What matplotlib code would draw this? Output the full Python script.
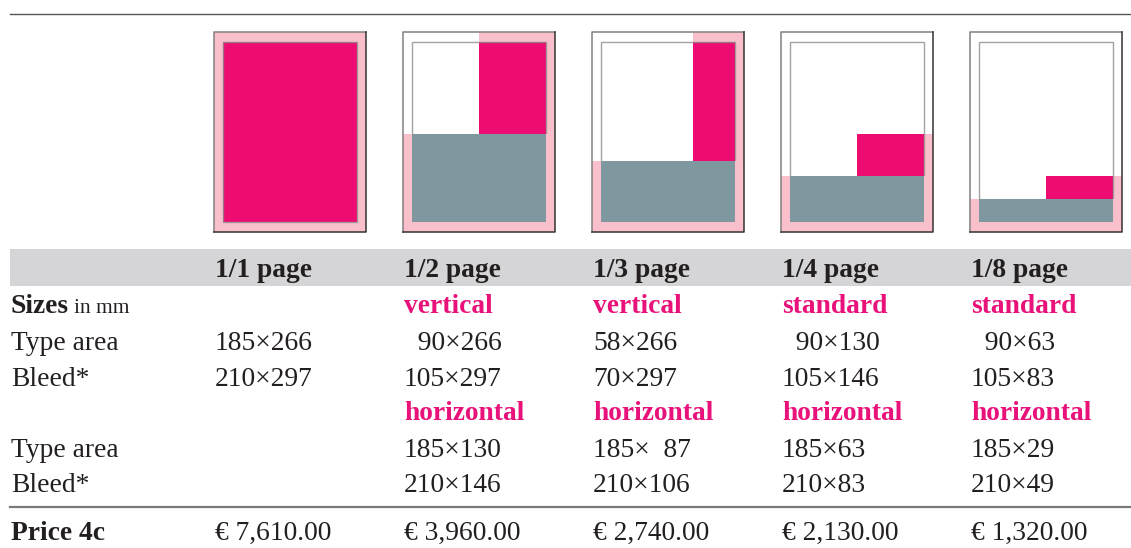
import matplotlib
matplotlib.use('Agg')
import matplotlib.pyplot as plt
import matplotlib.patches as patches

plt.rcParams['font.family'] = ['Liberation Serif', 'DejaVu Serif']

# Ad formats (mm), page is A4
PAGE = (210, 297)
FORMATS = ['1/1 page', '1/2 page', '1/3 page', '1/4 page', '1/8 page']
FIRST_LABEL = [None, 'vertical', 'vertical', 'standard', 'standard']
FIRST_TYPE = [(185, 266), (90, 266), (58, 266), (90, 130), (90, 63)]
FIRST_BLEED = [(210, 297), (105, 297), (70, 297), (105, 146), (105, 83)]
SECOND_LABEL = [None, 'horizontal', 'horizontal', 'horizontal', 'horizontal']
SECOND_TYPE = [None, (185, 130), (185, 87), (185, 63), (185, 29)]
SECOND_BLEED = [None, (210, 146), (210, 106), (210, 83), (210, 49)]
PRICES = [7610, 3960, 2740, 2130, 1320]

# Colors
MAGENTA = '#EC0C72'
MAGENTA_TEXT = '#E8127A'
PINK = '#F9C0CB'
SLATE = '#7F979E'
BAND = '#D5D5D7'
TEXT = '#231F20'

W, H = 1131, 548
COL_X = [215 + i * 189 for i in range(5)]
FS = 19.8


def fmt_pair(a, b):
    """Format 'w×h' of two rows with figure-space padding so digits line up."""
    out = []
    n_w = max(len(str(a[0])), len(str(b[0])))
    n_h = max(len(str(a[1])), len(str(b[1])))
    for w, h in (a, b):
        sw = '\u2007' * (n_w - len(str(w))) + str(w)
        sh = '\u2007' * (n_h - len(str(h))) + str(h)
        out.append(sw + '\u00d7' + sh)
    return out


def clip_rect(bleed, frame):
    """Bleed rectangle anchored bottom-right, clipped to the type frame."""
    x0, y0 = PAGE[0] - bleed[0], 0
    x1, y1 = PAGE[0], bleed[1]
    fx0, fy0, fx1, fy1 = frame
    return max(x0, fx0), max(y0, fy0), min(x1, fx1), min(y1, fy1)


def draw_page(fig, i):
    left, top, pw, ph = COL_X[i] - 1, 32, 152, 200
    tax = fig.add_axes([left / W, 1 - (top + ph) / H, pw / W, ph / H])
    tax.set_xlim(0, PAGE[0])
    tax.set_ylim(0, PAGE[1])
    tax.axis('off')

    mx = (PAGE[0] - FIRST_TYPE[0][0]) / 2
    my = (PAGE[1] - FIRST_TYPE[0][1]) / 2
    frame = (mx, my, PAGE[0] - mx, PAGE[1] - my)

    # first ad (full / vertical / standard)
    bw, bh = FIRST_BLEED[i]
    tax.add_patch(patches.Rectangle((PAGE[0] - bw, 0), bw, bh, facecolor=PINK, edgecolor='none'))
    x0, y0, x1, y1 = clip_rect(FIRST_BLEED[i], frame)
    tax.add_patch(patches.Rectangle((x0, y0), x1 - x0, y1 - y0, facecolor=MAGENTA, edgecolor='none'))

    # type area frame
    tax.add_patch(patches.Rectangle((mx, my), frame[2] - mx, frame[3] - my, fill=False,
                                    edgecolor='#8c8c8c', linewidth=1.0, alpha=0.8))

    # second ad (horizontal)
    if SECOND_BLEED[i] is not None:
        bw, bh = SECOND_BLEED[i]
        tax.add_patch(patches.Rectangle((PAGE[0] - bw, 0), bw, bh, facecolor=PINK, edgecolor='none'))
        x0, y0, x1, y1 = clip_rect(SECOND_BLEED[i], frame)
        tax.add_patch(patches.Rectangle((x0, y0), x1 - x0, y1 - y0, facecolor=SLATE, edgecolor='none'))

    # page border: lighter top/left, darker right/bottom
    kw = dict(linewidth=1.1, clip_on=False, solid_capstyle='projecting')
    tax.plot([0, 0, PAGE[0]], [0, PAGE[1], PAGE[1]], color='#808080', **kw)
    tax.plot([0, PAGE[0], PAGE[0]], [0, 0, PAGE[1]], color='#333333', **kw)


def main():
    fig = plt.figure(figsize=(W / 100, H / 100), dpi=100)
    ax = fig.add_axes([0, 0, 1, 1])
    ax.set_xlim(0, W)
    ax.set_ylim(H, 0)
    ax.axis('off')

    # rules and header band
    ax.plot([10, W], [14, 14], color='#555555', linewidth=1.0)
    ax.add_patch(patches.Rectangle((10, 249), W - 10, 37, facecolor=BAND, edgecolor='none'))
    ax.plot([10, W], [507, 507], color='#7a7a7a', linewidth=1.6)

    # row labels
    ax.text(11, 313, 'Sizes', fontsize=FS, fontweight='bold', color=TEXT, va='baseline')
    ax.text(74, 313, 'in mm', fontsize=15.5, color=TEXT, va='baseline')
    for y, lab in [(350, 'Type area'), (386, 'Bleed*'), (457, 'Type area'), (492, 'Bleed*')]:
        ax.text(11, y, lab, fontsize=FS, color=TEXT, va='baseline')
    ax.text(11, 540, 'Price 4c', fontsize=FS, fontweight='bold', color=TEXT, va='baseline')

    for i, name in enumerate(FORMATS):
        x = COL_X[i]
        draw_page(fig, i)
        ax.text(x, 277, name, fontsize=FS, fontweight='bold', color=TEXT, va='baseline')
        if FIRST_LABEL[i]:
            ax.text(x, 313, FIRST_LABEL[i], fontsize=FS, fontweight='bold',
                    color=MAGENTA_TEXT, va='baseline')
        t, b = fmt_pair(FIRST_TYPE[i], FIRST_BLEED[i])
        ax.text(x, 350, t, fontsize=FS, color=TEXT, va='baseline')
        ax.text(x, 386, b, fontsize=FS, color=TEXT, va='baseline')
        if SECOND_LABEL[i]:
            ax.text(x, 420, SECOND_LABEL[i], fontsize=FS, fontweight='bold',
                    color=MAGENTA_TEXT, va='baseline')
            t, b = fmt_pair(SECOND_TYPE[i], SECOND_BLEED[i])
            ax.text(x, 457, t, fontsize=FS, color=TEXT, va='baseline')
            ax.text(x, 492, b, fontsize=FS, color=TEXT, va='baseline')
        ax.text(x, 540, f'\u20ac {PRICES[i]:,.2f}', fontsize=FS, color=TEXT, va='baseline')

    fig.savefig('out.png', dpi=100)
    plt.close(fig)


if __name__ == '__main__':
    main()
